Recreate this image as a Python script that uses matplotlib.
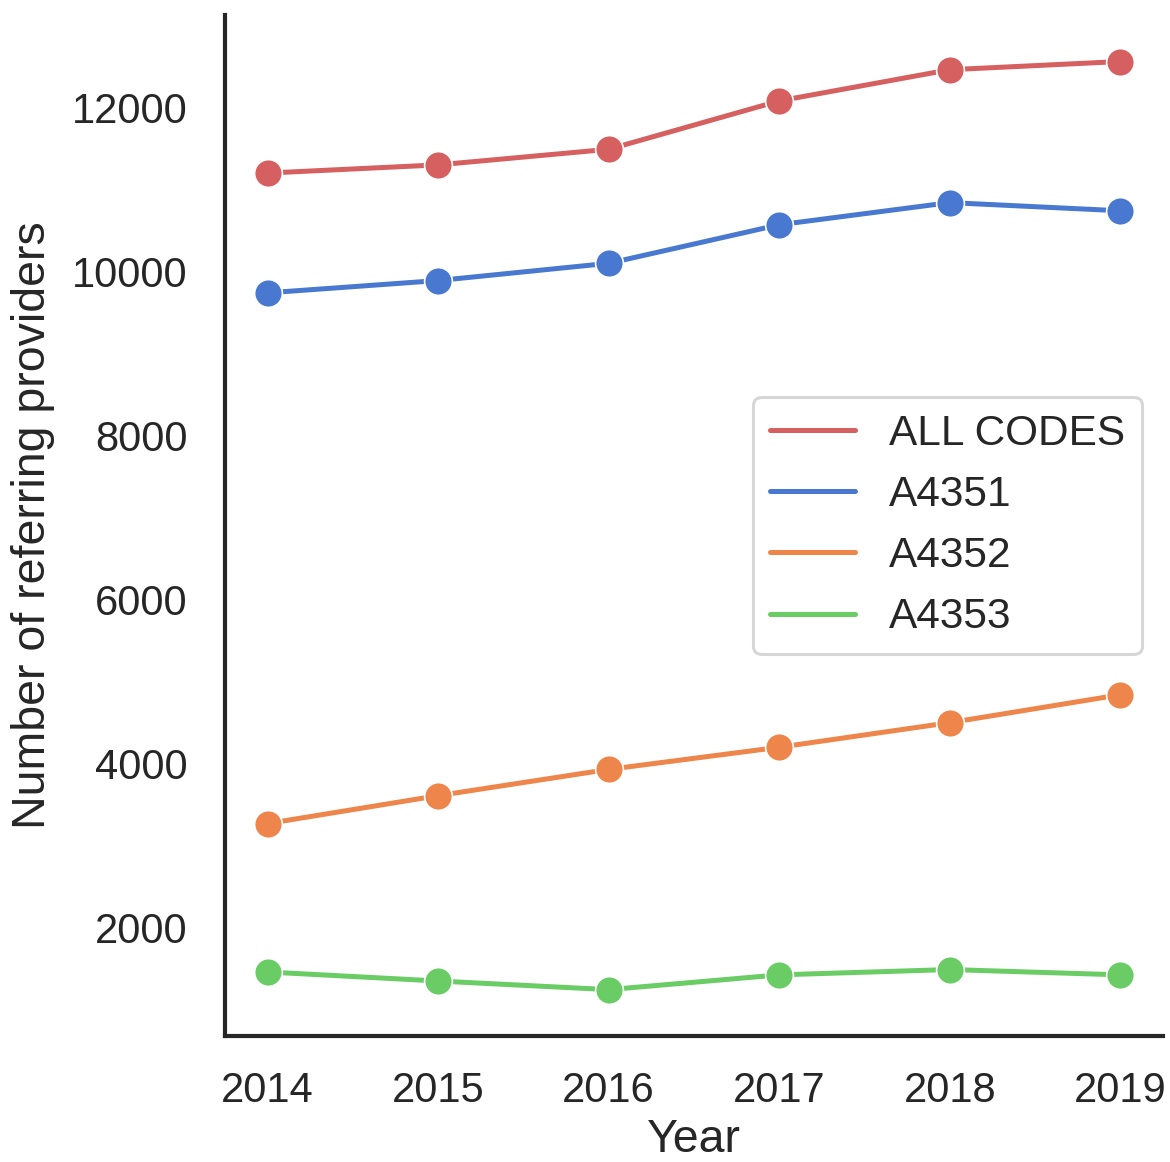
import matplotlib
matplotlib.use("Agg")
import matplotlib.pyplot as plt

years = [2014, 2015, 2016, 2017, 2018, 2019]

all_codes = [11200, 11300, 11490, 12080, 12460, 12560]
a4351 = [9740, 9890, 10100, 10570, 10840, 10740]
a4352 = [3270, 3610, 3930, 4200, 4500, 4840]
a4353 = [1460, 1350, 1245, 1425, 1490, 1425]

series_names = ["ALL CODES", "A4351", "A4352", "A4353"]
series_values = [all_codes, a4351, a4352, a4353]
colors = ["#d65f5f", "#4878d0", "#ee854a", "#6acc64"]

plt.rcParams["font.family"] = ["Liberation Sans", "DejaVu Sans"]
text_color = "#262626"

fig = plt.figure(figsize=(11.7, 11.62), dpi=100)
ax = fig.add_axes([0.1923, 0.1084, 0.994 - 0.1923, 0.987 - 0.1084])

for name, values, color in zip(series_names, series_values, colors):
    ax.plot(years, values, color=color, lw=3.6, label=name, solid_capstyle="round")
    ax.plot(years, values, ls="none", marker="o", ms=20, color=color,
            mec="white", mew=1.2, label="_nolegend_")

for side in ["top", "right"]:
    ax.spines[side].set_visible(False)
for side in ["left", "bottom"]:
    ax.spines[side].set_linewidth(3)
    ax.spines[side].set_color(text_color)

ax.set_xticks(years)
ax.set_yticks([2000, 4000, 6000, 8000, 10000, 12000])
ax.tick_params(axis="both", length=0, labelsize=30, colors=text_color)
ax.tick_params(axis="x", pad=25)
ax.tick_params(axis="y", pad=27)

ax.set_xlabel("Year", fontsize=33.5, color=text_color, labelpad=5)
ax.set_ylabel("Number of referring providers", fontsize=33.5, color=text_color, labelpad=12)

leg = ax.legend(loc="center right", fontsize=30.5, frameon=True)
leg.get_frame().set_edgecolor("#cccccc")
leg.get_frame().set_linewidth(2.2)
for t in leg.get_texts():
    t.set_color(text_color)

fig.savefig("out.png", dpi=100, facecolor="white")
